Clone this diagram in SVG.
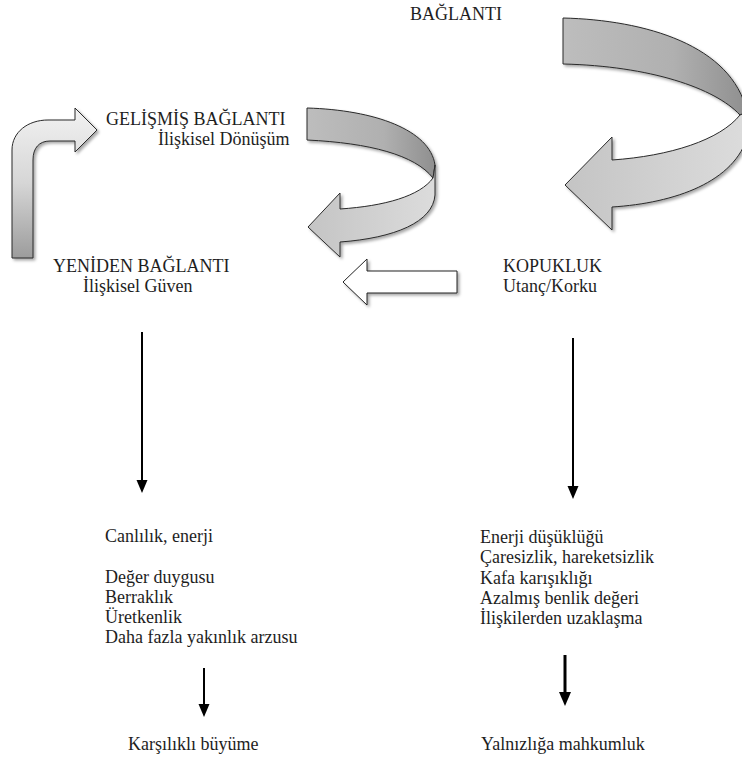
<svg xmlns="http://www.w3.org/2000/svg" width="742" height="758" viewBox="0 0 742 758">
<style>
.t{font-family:"Liberation Serif","Times New Roman",serif;font-size:18px;fill:#1e1e1e}
.ln{stroke:#000;stroke-width:2;fill:none}
.blk{stroke:#2a2a2a;stroke-width:1;stroke-linejoin:miter}
</style>
<defs>
<filter id="sh" x="-10%" y="-10%" width="130%" height="130%">
<feDropShadow dx="2" dy="2" stdDeviation="1.5" flood-color="#000" flood-opacity="0.35"/>
</filter>
<linearGradient id="gTop" x1="0" y1="0" x2="1" y2="0">
<stop offset="0" stop-color="#bdbdbd"/>
<stop offset="0.6" stop-color="#b0b0b0"/>
<stop offset="1" stop-color="#8f8f8f"/>
</linearGradient>
<linearGradient id="gLow" x1="0" y1="0" x2="1" y2="0">
<stop offset="0" stop-color="#c4c4c4"/>
<stop offset="1" stop-color="#dcdcdc"/>
</linearGradient>
<linearGradient id="gL" x1="0" y1="0" x2="0" y2="1">
<stop offset="0" stop-color="#f2f2f2"/>
<stop offset="0.5" stop-color="#d6d6d6"/>
<stop offset="1" stop-color="#9c9c9c"/>
</linearGradient>
</defs>
<g id="connectors">
<g id="big-curved-arrow" filter="url(#sh)">
<path class="blk" fill="url(#gTop)" d="M563,18 C645,20 732,45 747,112 L740,115 C715,88 650,66 563,64 Z"/>
<path class="blk" fill="url(#gLow)" d="M740,115 C720,140 670,156 612,160 L612,137 L565,185 L612,230 L612,207 C675,203 735,182 748,135 L747,112 Z"/>
</g>
<g id="mid-curved-arrow" filter="url(#sh)">
<path class="blk" fill="url(#gTop)" d="M307,108 C375,110 430,130 435,165 L433,178 C415,155 370,143 307,140 Z"/>
<path class="blk" fill="url(#gLow)" d="M433,178 C420,196 385,206 340,209 L340,193 L308,227 L340,257 L340,242 C395,238 433,222 435,195 L435,165 Z"/>
</g>
<g id="l-arrow" filter="url(#sh)">
<path class="blk" fill="url(#gL)" d="M12,258 L12,150 C12,132 28,120 48,120 L75,120 L75,108 L97,130 L75,152 L75,141 L50,141 C39,141 33,148 33,160 L33,258 Z"/>
</g>
<g id="outline-arrow" filter="url(#sh)">
<path fill="#fff" stroke="#222" stroke-width="1" d="M457,271 L457,293 L367,293 L367,305 L343,282 L367,259 L367,271 Z"/>
</g>
<g id="down-arrows">
<line class="ln" x1="142" y1="332" x2="142" y2="481"/>
<polygon points="136.5,480 147.5,480 142,493" fill="#000"/>
<line class="ln" x1="573" y1="338" x2="573" y2="487"/>
<polygon points="567.5,486 578.5,486 573,499" fill="#000"/>
<line class="ln" x1="204" y1="668" x2="204" y2="705"/>
<polygon points="198.5,704 209.5,704 204,717" fill="#000"/>
<line class="ln" x1="565" y1="655" x2="565" y2="693" style="stroke-width:3"/>
<polygon points="559,692 571,692 565,706" fill="#000"/>
</g>
</g>
<g id="node-baglanti"><text class="t" x="410" y="20">BAĞLANTI</text></g>
<g id="node-gelismis">
<text class="t" x="106" y="125">GELİŞMİŞ BAĞLANTI</text>
<text class="t" x="158" y="145">İlişkisel Dönüşüm</text>
</g>
<g id="node-yeniden">
<text class="t" x="53" y="272">YENİDEN BAĞLANTI</text>
<text class="t" x="83" y="292">İlişkisel Güven</text>
</g>
<g id="node-kopukluk">
<text class="t" x="503" y="272">KOPUKLUK</text>
<text class="t" x="503" y="292">Utanç/Korku</text>
</g>
<g id="node-left-list">
<text class="t" x="105" y="542">Canlılık, enerji</text>
<text class="t" x="105" y="583">Değer duygusu</text>
<text class="t" x="105" y="603">Berraklık</text>
<text class="t" x="105" y="623">Üretkenlik</text>
<text class="t" x="105" y="643">Daha fazla yakınlık arzusu</text>
</g>
<g id="node-right-list">
<text class="t" x="480" y="543">Enerji düşüklüğü</text>
<text class="t" x="480" y="563">Çaresizlik, hareketsizlik</text>
<text class="t" x="480" y="584">Kafa karışıklığı</text>
<text class="t" x="480" y="604">Azalmış benlik değeri</text>
<text class="t" x="480" y="624">İlişkilerden uzaklaşma</text>
</g>
<g id="node-karsilikli"><text class="t" x="128" y="750">Karşılıklı büyüme</text></g>
<g id="node-yalnizliga"><text class="t" x="481" y="750">Yalnızlığa mahkumluk</text></g>
</svg>
